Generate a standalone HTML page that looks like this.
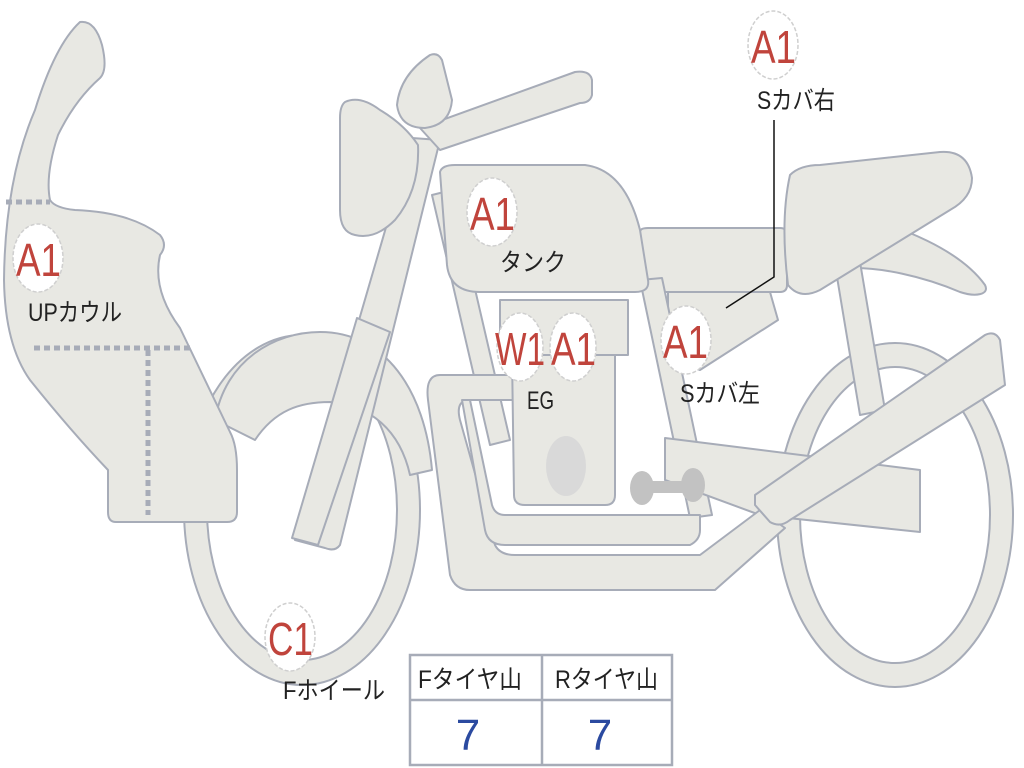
<!DOCTYPE html>
<html><head><meta charset="utf-8"><style>
html,body{margin:0;padding:0;background:#fff;}
svg{display:block}
.p{fill:#e8e8e3;stroke:#a7acb8;stroke-width:2;stroke-linejoin:round}
.lbl{font-family:"Liberation Sans","Noto Sans CJK JP",sans-serif;font-size:25px;fill:#222}
.red{font-family:"Liberation Sans","Noto Sans CJK JP",sans-serif;font-size:46px;fill:#c0443c}
.c{fill:#fff;stroke:#cfcfcf;stroke-width:1.5;stroke-dasharray:4 2}
</style></head><body>
<svg width="1024" height="768" viewBox="0 0 1024 768" xmlns="http://www.w3.org/2000/svg">
<!-- rear wheel -->
<ellipse class="p" cx="895" cy="515" rx="118" ry="172"/>
<ellipse cx="895" cy="515" rx="95" ry="148" fill="#fff" stroke="#a7acb8" stroke-width="2"/>
<!-- front wheel -->
<ellipse class="p" cx="302" cy="510" rx="118" ry="175"/>
<ellipse cx="302" cy="510" rx="95" ry="150" fill="#fff" stroke="#a7acb8" stroke-width="2"/>
<!-- front fender -->
<path class="p" d="M215,420 C225,360 275,332 320,332 C385,332 425,390 432,470 L410,475 C400,430 370,405 330,402 C300,402 275,410 255,440 Z"/>
<!-- rear fender & seat -->
<path class="p" d="M850,215 C900,225 960,250 985,285 C990,295 975,297 960,292 C920,275 880,268 855,268 Z"/>
<path class="p" d="M835,265 L860,262 L885,410 L860,415 Z"/>
<path class="p" d="M640,232 Q640,228 648,228 L780,228 Q787,228 787,235 L787,285 Q787,292 780,292 L660,292 Q650,292 648,285 Z"/>
<path class="p" d="M790,175 Q800,165 820,165 L940,152 Q968,150 972,178 Q972,198 950,210 L820,290 Q800,300 788,285 Q780,220 790,175 Z"/>
<!-- side cover left -->
<path class="p" d="M668,292 L770,292 L778,320 L700,370 L668,360 Z"/>
<!-- frame tubes -->
<path class="p" d="M432,195 L452,190 L510,440 L490,445 Z"/>
<path class="p" d="M640,280 L662,278 L712,515 L690,518 Z"/>
<!-- swingarm -->
<path class="p" d="M665,438 L920,470 L920,532 L760,515 L665,480 Z"/>
<!-- exhaust -->
<path class="p" d="M440,375 L515,375 L515,400 L470,400 Q455,400 460,420 L495,545 Q500,555 515,555 L700,555 L760,510 L785,528 L715,590 L470,590 Q455,590 450,575 L428,400 Q425,375 440,375 Z"/>
<path class="p" d="M462,400 L485,530 Q488,545 505,545 L690,545 Q700,540 700,530 L700,515 L505,515 Q495,515 492,505 L470,400 Z"/>
<!-- engine -->
<rect class="p" x="500" y="300" width="128" height="55"/>
<path class="p" d="M512,355 L615,355 L615,495 Q615,505 605,505 L525,505 Q514,505 514,495 Z"/>
<ellipse cx="566" cy="466" rx="20" ry="30" fill="#d9d9d9"/>
<path d="M640,487 L690,487" stroke="#c2c2c2" stroke-width="12"/>
<ellipse cx="642" cy="488" rx="12" ry="17" fill="#c2c2c2"/>
<ellipse cx="693" cy="485" rx="12" ry="17" fill="#c2c2c2"/>
<!-- muffler -->
<path class="p" d="M755,495 L985,335 Q995,330 1000,340 L1005,385 L790,520 Q780,528 770,522 L755,505 Z"/>
<!-- tank -->
<path class="p" d="M440,172 Q442,165 455,165 L585,165 Q625,170 640,230 L648,280 Q650,292 635,292 L480,292 Q450,292 447,265 Z"/>
<!-- forks -->
<path class="p" d="M412,138 L440,140 L340,545 Q335,552 325,548 L295,540 Z"/>
<path class="p" d="M357,318 L390,332 L318,545 L292,538 Z"/>
<!-- handlebar -->
<path class="p" d="M420,128 L575,72 Q590,70 592,80 L592,95 Q590,103 580,103 L440,150 Z"/>
<!-- headlight -->
<path class="p" d="M345,102 Q360,95 380,110 Q405,125 418,145 Q420,190 395,220 Q375,240 355,235 Q340,232 340,210 L340,118 Q340,106 345,102 Z"/>
<path class="p" d="M430,55 Q438,52 442,60 L452,100 Q450,125 425,128 Q400,128 397,105 Q400,75 430,55 Z"/>
<!-- cowl -->
<path class="p" d="M80,22 Q95,20 102,45 Q108,70 100,78 Q75,100 58,135 Q45,175 50,200 Q55,208 75,210 Q130,212 160,235 Q168,245 160,255 Q152,290 180,328 L230,432 Q237,445 237,470 L237,512 Q237,522 227,522 L116,522 Q108,522 108,512 L108,470 Q70,430 30,380 Q5,345 4,280 Q5,180 35,110 Q55,45 80,22 Z"/>
<path d="M6,202 L50,202 M34,348 L190,348 M148,350 L148,515" stroke="#a7acb8" stroke-width="5" stroke-dasharray="6 4" fill="none"/>
<!-- leader line -->
<path d="M774,120 L774,277 L726,308" stroke="#111" stroke-width="1.5" fill="none"/>
<!-- label circles -->
<ellipse class="c" cx="773" cy="45" rx="25" ry="34"/><text class="red" x="751" y="63" textLength="45" lengthAdjust="spacingAndGlyphs">A1</text>
<text class="lbl" x="757" y="109" textLength="78" lengthAdjust="spacingAndGlyphs">Sカバ右</text>
<ellipse class="c" cx="492" cy="212" rx="25" ry="34"/><text class="red" x="470" y="230" textLength="45" lengthAdjust="spacingAndGlyphs">A1</text>
<text class="lbl" x="500" y="271" textLength="66" lengthAdjust="spacingAndGlyphs">タンク</text>
<ellipse class="c" cx="38" cy="258" rx="25" ry="34"/><text class="red" x="16" y="276" textLength="45" lengthAdjust="spacingAndGlyphs">A1</text>
<text class="lbl" x="28" y="321" textLength="94" lengthAdjust="spacingAndGlyphs">UPカウル</text>
<ellipse class="c" cx="520" cy="347" rx="23" ry="34"/><text class="red" x="495" y="365" textLength="50" lengthAdjust="spacingAndGlyphs">W1</text>
<ellipse class="c" cx="573" cy="347" rx="23" ry="34"/><text class="red" x="551" y="365" textLength="45" lengthAdjust="spacingAndGlyphs">A1</text>
<text class="lbl" x="527" y="409" textLength="27" lengthAdjust="spacingAndGlyphs">EG</text>
<ellipse class="c" cx="686" cy="340" rx="25" ry="34"/><text class="red" x="663" y="358" textLength="45" lengthAdjust="spacingAndGlyphs">A1</text>
<text class="lbl" x="680" y="402" textLength="80" lengthAdjust="spacingAndGlyphs">Sカバ左</text>
<ellipse class="c" cx="290" cy="637" rx="25" ry="34"/><text class="red" x="268" y="655" textLength="45" lengthAdjust="spacingAndGlyphs">C1</text>
<text class="lbl" x="283" y="699" textLength="102" lengthAdjust="spacingAndGlyphs">Fホイール</text>
<!-- table -->
<rect x="410" y="655" width="262" height="110" fill="#fff" stroke="#a7acb8" stroke-width="2.5"/>
<line x1="410" y1="700" x2="672" y2="700" stroke="#a7acb8" stroke-width="2.5"/>
<line x1="542" y1="655" x2="542" y2="765" stroke="#a7acb8" stroke-width="2.5"/>
<text class="lbl" x="418" y="688" textLength="104" lengthAdjust="spacingAndGlyphs">Fタイヤ山</text>
<text class="lbl" x="555" y="688" textLength="103" lengthAdjust="spacingAndGlyphs">Rタイヤ山</text>
<text x="468" y="750" text-anchor="middle" font-family="Liberation Sans,sans-serif" font-size="44" fill="#2b4aa0">7</text>
<text x="600" y="750" text-anchor="middle" font-family="Liberation Sans,sans-serif" font-size="44" fill="#2b4aa0">7</text>
</svg>
</body></html>
